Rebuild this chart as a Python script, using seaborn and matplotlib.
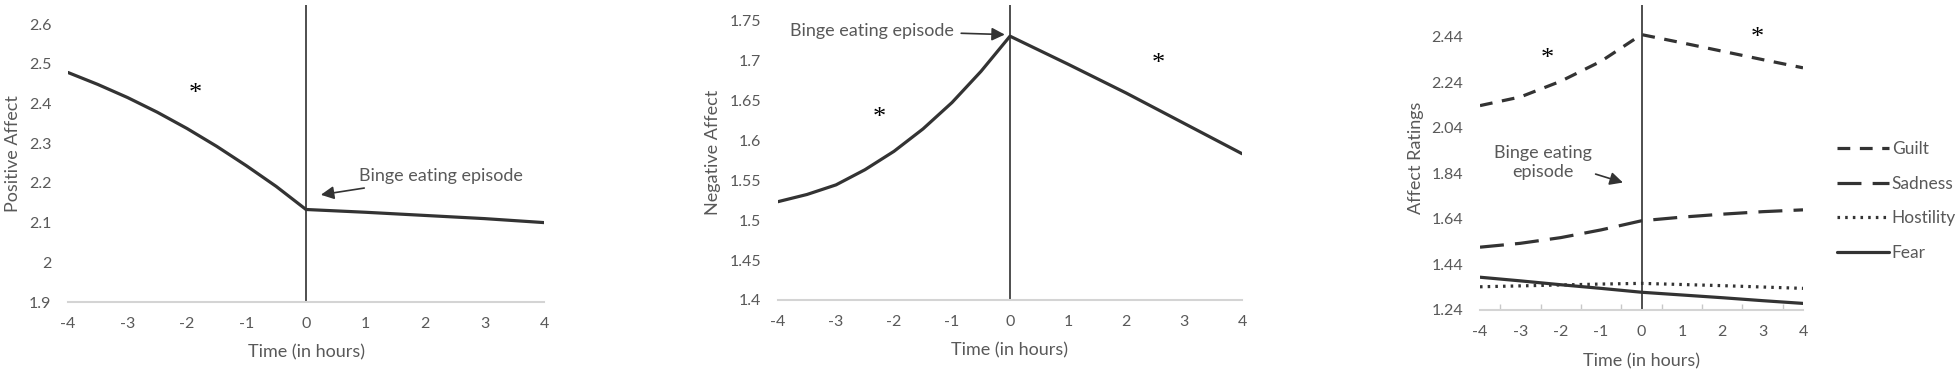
import matplotlib
matplotlib.use("Agg")
import matplotlib.pyplot as plt
from matplotlib.transforms import offset_copy
import numpy as np
import pandas as pd
import seaborn as sns

# ── data ──────────────────────────────────────────────────────────────────────
HOURS = [-4, -3, -2, -1, 0, 1, 2, 3, 4]
HALF_HOURS = [-4, -3.5, -3, -2.5, -2, -1.5, -1, -0.5, 0, 1, 2, 3, 4]

POSITIVE = [2.478, 2.448, 2.415, 2.378, 2.337, 2.292, 2.243, 2.191, 2.133,
            2.126, 2.118, 2.110, 2.10]
NEGATIVE = [1.523, 1.532, 1.544, 1.563, 1.586, 1.614, 1.647, 1.686, 1.730,
            1.695, 1.659, 1.621, 1.583]

GUILT     = [2.138, 2.176, 2.245, 2.333, 2.45, 2.414, 2.377, 2.340, 2.304]
SADNESS   = [1.516, 1.533, 1.558, 1.592, 1.632, 1.648, 1.661, 1.672, 1.680]
HOSTILITY = [1.342, 1.346, 1.350, 1.354, 1.357, 1.352, 1.347, 1.341, 1.335]
FEAR      = [1.384, 1.368, 1.351, 1.335, 1.318, 1.306, 1.294, 1.281, 1.269]

EMOTIONS = ["Guilt", "Sadness", "Hostility", "Fear"]

POS_TICKS = [1.9, 2, 2.1, 2.2, 2.3, 2.4, 2.5, 2.6]
NEG_TICKS = [1.4, 1.45, 1.5, 1.55, 1.6, 1.65, 1.7, 1.75]
AFF_TICKS = [1.24, 1.44, 1.64, 1.84, 2.04, 2.24, 2.44]

# ── style ─────────────────────────────────────────────────────────────────────
sns.set_style("white")
plt.rcParams["font.family"] = ["Lato", "DejaVu Sans"]
TXT = "#595959"
LINE = "#333333"
W = 2.3
STAR = dict(fontsize=19, ha="center", va="baseline", color="black",
            family=["Liberation Serif", "DejaVu Serif"])

fig = plt.figure(figsize=(19.56, 3.76), dpi=100)
FW, FH = 1956, 376


def add_ax(x0, x1, top, bottom):
    return fig.add_axes([x0 / FW, 1 - bottom / FH, (x1 - x0) / FW, (bottom - top) / FH])


def style_axes(ax, yticks, ylim, ylabel, fmt, ylab_x):
    ax.set_xlim(-4, 4)
    ax.set_ylim(*ylim)
    ax.set_xticks(HOURS)
    ax.set_xticklabels([str(h) for h in HOURS])
    ax.set_yticks(yticks)
    ax.set_yticklabels([fmt(v) for v in yticks])
    for s in ("top", "right", "left"):
        ax.spines[s].set_visible(False)
    ax.spines["bottom"].set_color("#d4d4d4")
    ax.spines["bottom"].set_linewidth(1.5)
    ax.tick_params(axis="y", length=0, labelsize=11.5, colors=TXT, pad=12)
    ax.tick_params(axis="x", length=0, labelsize=11.5, colors=TXT, pad=11)
    ax.set_xlabel("Time (in hours)", fontsize=13, color=TXT)
    ax.set_ylabel(ylabel, fontsize=13, color=TXT)
    ax.xaxis.set_label_coords(0.5, -0.17)
    ax.xaxis.label.set_va("center")
    ax.yaxis.set_label_coords(ylab_x, 0.5)
    ax.yaxis.label.set_va("center")
    ax.axvline(0, color="#404040", lw=1.3, zorder=1)
    ax.patch.set_alpha(0)


def star(ax, x, y):
    tr = offset_copy(ax.transData, fig=fig, y=-9, units="points")
    ax.text(x, y, "*", transform=tr, **STAR)


def fmt_g(v):
    return f"{v:g}"


# ── panel 1: positive affect ─────────────────────────────────────────────────
ax1 = add_ax(68, 544, 5, 302)
sns.lineplot(x=HALF_HOURS, y=POSITIVE, ax=ax1, color=LINE, lw=W)
style_axes(ax1, POS_TICKS, (1.9, 2.648), "Positive Affect", fmt_g, -0.115)
ax1.annotate("Binge eating episode", xy=(0.25, 2.17), xytext=(0.89, 2.217),
             fontsize=13, color=TXT, va="center", ha="left",
             arrowprops=dict(arrowstyle="-|>,head_length=0.6,head_width=0.3",
                             color=LINE, lw=1.2, shrinkA=3, shrinkB=0))
star(ax1, -1.86, 2.44)

# ── panel 2: negative affect ─────────────────────────────────────────────────
ax2 = add_ax(778, 1242, 5, 300)
sns.lineplot(x=HALF_HOURS, y=NEGATIVE, ax=ax2, color=LINE, lw=W)
style_axes(ax2, NEG_TICKS, (1.4, 1.769), "Negative Affect", fmt_g, -0.14)
ax2.annotate("Binge eating episode", xy=(-0.09, 1.732), xytext=(-0.97, 1.737),
             fontsize=13, color=TXT, va="center", ha="right",
             arrowprops=dict(arrowstyle="-|>,head_length=0.6,head_width=0.3",
                             color=LINE, lw=1.2, shrinkA=3, shrinkB=0))
star(ax2, -2.26, 1.636)
star(ax2, 2.55, 1.703)

# ── panel 3: discrete affect ratings ─────────────────────────────────────────
ax3 = add_ax(1480, 1803, 5, 310)
df = pd.DataFrame({
    "Time": HOURS * 4,
    "Rating": GUILT + SADNESS + HOSTILITY + FEAR,
    "Emotion": sum([[e] * len(HOURS) for e in EMOTIONS], []),
})
dashes = {"Guilt": (4, 3), "Sadness": (7.5, 3.5), "Hostility": (0.8, 1.6), "Fear": ""}
sns.lineplot(data=df, x="Time", y="Rating", hue="Emotion", style="Emotion",
             hue_order=EMOTIONS, style_order=EMOTIONS, dashes=dashes,
             palette={e: LINE for e in EMOTIONS}, lw=W, ax=ax3)
style_axes(ax3, AFF_TICKS, (1.24, 2.58), "Affect Ratings", lambda v: f"{v:.2f}", -0.198)
ax3.set_xticks(np.arange(-4, 4.01, 0.5), minor=True)
ax3.tick_params(axis="x", which="minor", direction="in", length=4, width=1,
                colors="#c8c8c8", bottom=True)
ax3.annotate("Binge eating\nepisode", xy=(-0.46, 1.80), xytext=(-2.43, 1.888),
             fontsize=13, color=TXT, va="center", ha="center", linespacing=1.25,
             arrowprops=dict(arrowstyle="-|>,head_length=0.6,head_width=0.3",
                             color=LINE, lw=1.2, shrinkA=0, shrinkB=0,
                             relpos=(1.0, 0.2)))
star(ax3, -2.32, 2.37)
star(ax3, 2.88, 2.462)
ax3.get_legend().remove()
handles, labels = ax3.get_legend_handles_labels()
leg = fig.legend(handles, labels, loc="center left",
                 bbox_to_anchor=(1837 / FW, 1 - 201 / FH), frameon=False,
                 fontsize=12.5, handlelength=3.0, handletextpad=0.15,
                 labelspacing=1.07, borderpad=0, borderaxespad=0)
for t in leg.get_texts():
    t.set_color(TXT)

fig.savefig("out.png", dpi=100)
